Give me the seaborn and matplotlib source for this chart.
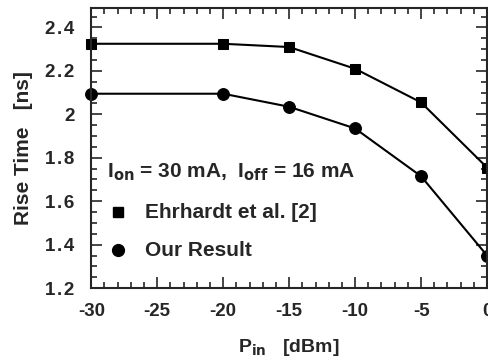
import numpy as np
import pandas as pd
import matplotlib
matplotlib.use("Agg")
import matplotlib.pyplot as plt
import seaborn as sns
from matplotlib.ticker import MultipleLocator

# data
p_in = [-30, -20, -15, -10, -5, 0]
ehrhardt = [2.325, 2.325, 2.31, 2.21, 2.055, 1.755]
our_result = [2.095, 2.095, 2.035, 1.935, 1.715, 1.35]

x_ticks = [-30, -25, -20, -15, -10, -5, 0]
x_labels = ["-30", "-25", "-20", "-15", "-10", "-5", "0"]
y_ticks = [1.2, 1.4, 1.6, 1.8, 2.0, 2.2, 2.4]
y_labels = ["1\u200a.\u200a2", "1\u200a.\u200a4", "1\u200a.\u200a6", "1\u200a.\u200a8",
            "2", "2\u200a.\u200a2", "2\u200a.\u200a4"]

sns.set_style("ticks")
plt.rcParams["font.family"] = ["Liberation Sans", "DejaVu Sans"]
plt.rcParams["font.weight"] = "bold"
plt.rcParams["mathtext.default"] = "bf"

fig = plt.figure(figsize=(4.88, 3.61), dpi=100)
ax = fig.add_axes([0.187, 0.202, 0.811, 0.776])

df_e = pd.DataFrame({"p": p_in, "t": ehrhardt})
df_o = pd.DataFrame({"p": p_in, "t": our_result})

sns.lineplot(data=df_e, x="p", y="t", ax=ax, color="black", lw=1.5,
             marker="s", markersize=7.5, markeredgecolor="black", clip_on=False)
sns.lineplot(data=df_o, x="p", y="t", ax=ax, color="black", lw=1.5,
             marker="o", markersize=8.5, markeredgecolor="black", clip_on=False)

ax.set_xlim(-30, 0)
ax.set_ylim(1.2, 2.49)
ax.set_xticks(x_ticks)
ax.set_xticklabels(x_labels)
ax.set_yticks(y_ticks)
ax.set_yticklabels(y_labels)
ax.xaxis.set_minor_locator(MultipleLocator(1))
ax.yaxis.set_minor_locator(MultipleLocator(0.05))
ax.tick_params(which="both", direction="in", top=True, right=True, width=1.2)
ax.tick_params(which="major", length=8, labelsize=13.5)
ax.tick_params(axis="x", which="major", pad=11)
ax.tick_params(axis="y", which="major", pad=12)
ax.tick_params(which="minor", length=4)
for lab in ax.get_xticklabels() + ax.get_yticklabels():
    lab.set_fontweight("bold")
for s in ax.spines.values():
    s.set_linewidth(1.5)

ax.set_xlabel(r"P$_{\mathbf{in}}$   [dBm]", fontsize=14, fontweight="bold", labelpad=12)
ax.set_ylabel("Rise Time   [ns]", fontsize=15, fontweight="bold", labelpad=9)

ax.text(-28.8, 1.735, r"I$_{\mathbf{on}}$ = 30 mA,  I$_{\mathbf{off}}$ = 16 mA",
        fontsize=15, fontweight="bold", va="center")

# legend-style annotations
ax.plot([-28], [1.55], marker="s", color="black", markersize=7.5, ls="none")
ax.text(-25.9, 1.55, "Ehrhardt et al. [2]", fontsize=15, fontweight="bold", va="center")
ax.plot([-28], [1.375], marker="o", color="black", markersize=8.5, ls="none")
ax.text(-25.9, 1.375, "Our Result", fontsize=15, fontweight="bold", va="center")

fig.savefig("out.png", dpi=100)
